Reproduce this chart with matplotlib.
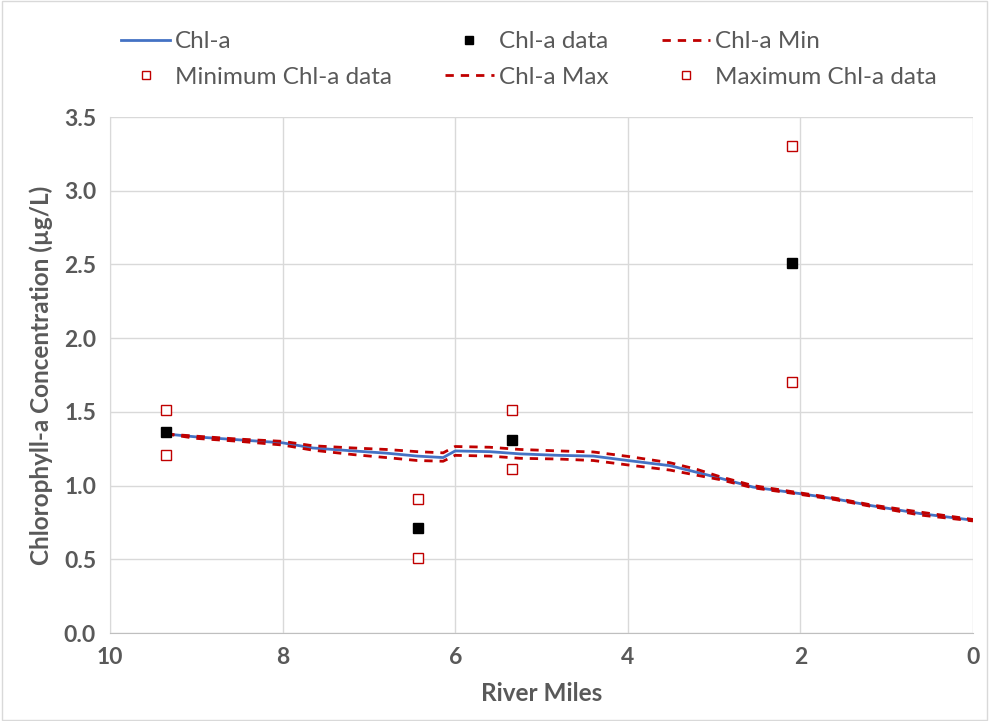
import matplotlib.pyplot as plt
from matplotlib.patches import Rectangle

# model output along the river
model_miles = [9.35, 9.0, 8.5, 8.0, 7.65, 7.18, 6.8, 6.44, 6.14, 6.0, 5.6, 5.25, 4.8, 4.4, 4.0, 3.51, 3.2, 2.93, 2.55, 2.0, 1.6, 1.19, 0.61, 0.0]
chla = [1.35, 1.33, 1.31, 1.29, 1.255, 1.235, 1.22, 1.20, 1.19, 1.235, 1.23, 1.215, 1.205, 1.20, 1.17, 1.135, 1.09, 1.05, 0.99, 0.945, 0.91, 0.865, 0.81, 0.765]
chla_min = [1.35, 1.32, 1.30, 1.275, 1.24, 1.21, 1.19, 1.17, 1.165, 1.205, 1.20, 1.185, 1.18, 1.17, 1.14, 1.105, 1.07, 1.04, 0.985, 0.94, 0.905, 0.86, 0.80, 0.76]
chla_max = [1.35, 1.335, 1.315, 1.30, 1.27, 1.255, 1.245, 1.23, 1.222, 1.265, 1.26, 1.245, 1.235, 1.228, 1.198, 1.155, 1.11, 1.06, 1.0, 0.95, 0.915, 0.87, 0.82, 0.77]

# observations
obs_miles = [9.35, 6.43, 5.34, 2.10]
obs_mean = [1.36, 0.71, 1.31, 2.51]
obs_min = [1.21, 0.51, 1.11, 1.70]
obs_max = [1.51, 0.91, 1.51, 3.30]

plt.rcParams['font.family'] = ['Lato', 'DejaVu Sans']
grey = '#595959'

fig = plt.figure(figsize=(9.89, 7.21), dpi=100)
ax = fig.add_axes([110 / 989, 1 - 633 / 721, (973 - 110) / 989, (633 - 117) / 721])

l_chla, = ax.plot(model_miles, chla, color='#4472C4', lw=2, label='Chl-a', zorder=3)
l_min, = ax.plot(model_miles, chla_min, color='#C00000', lw=2, ls=(0, (3, 2.5)), label='Chl-a Min', zorder=3)
l_max, = ax.plot(model_miles, chla_max, color='#C00000', lw=2, ls=(0, (3, 2.5)), label='Chl-a Max', zorder=3)
s_data, = ax.plot(obs_miles, obs_mean, 's', color='black', ms=7.5, ls='none', label='Chl-a data', zorder=4)
s_min, = ax.plot(obs_miles, obs_min, 's', mfc='white', mec='#C00000', mew=1, ms=7.5, ls='none',
                 label='Minimum Chl-a data', zorder=4)
s_max, = ax.plot(obs_miles, obs_max, 's', mfc='white', mec='#C00000', mew=1, ms=7.5, ls='none',
                 label='Maximum Chl-a data', zorder=4)

ax.set_xlim(10, 0)
ax.set_ylim(0, 3.5)
ax.set_xticks([10, 8, 6, 4, 2, 0])
ax.set_yticks([i * 0.5 for i in range(8)])
ax.set_yticklabels(['%.1f' % (i * 0.5) for i in range(8)])
ax.grid(True, color='#D9D9D9', lw=1)
ax.set_axisbelow(True)
for s in ['top', 'right']:
    ax.spines[s].set_visible(False)
ax.spines['left'].set_color('#D9D9D9')
ax.spines['bottom'].set_color('#BFBFBF')
ax.tick_params(length=0, labelsize=16.5, labelcolor=grey, pad=10)
for t in ax.get_xticklabels() + ax.get_yticklabels():
    t.set_fontweight('bold')
ax.set_xlabel('River Miles', fontsize=17.5, fontweight='bold', color=grey, labelpad=10)
ax.set_ylabel('Chlorophyll-a Concentration (µg/L)', fontsize=17.5, fontweight='bold', color=grey, labelpad=8)

# legend order: matplotlib fills columns, so interleave the rows
handles = [l_chla, s_min, s_data, l_max, l_min, s_max]
fig.legend(handles=handles, labels=[h.get_label() for h in handles], ncol=3, loc='upper center',
           bbox_to_anchor=(0.535, 0.987), frameon=False, fontsize=17.5, labelcolor=grey,
           handlelength=2.0, handletextpad=0.2, columnspacing=2.2, labelspacing=0.6, markerscale=0.8)

fig.patches.append(Rectangle((0.002, 0.002), 0.996, 0.996, transform=fig.transFigure,
                             fill=False, ec='#D9D9D9', lw=1))
fig.savefig('out.png', dpi=100)
